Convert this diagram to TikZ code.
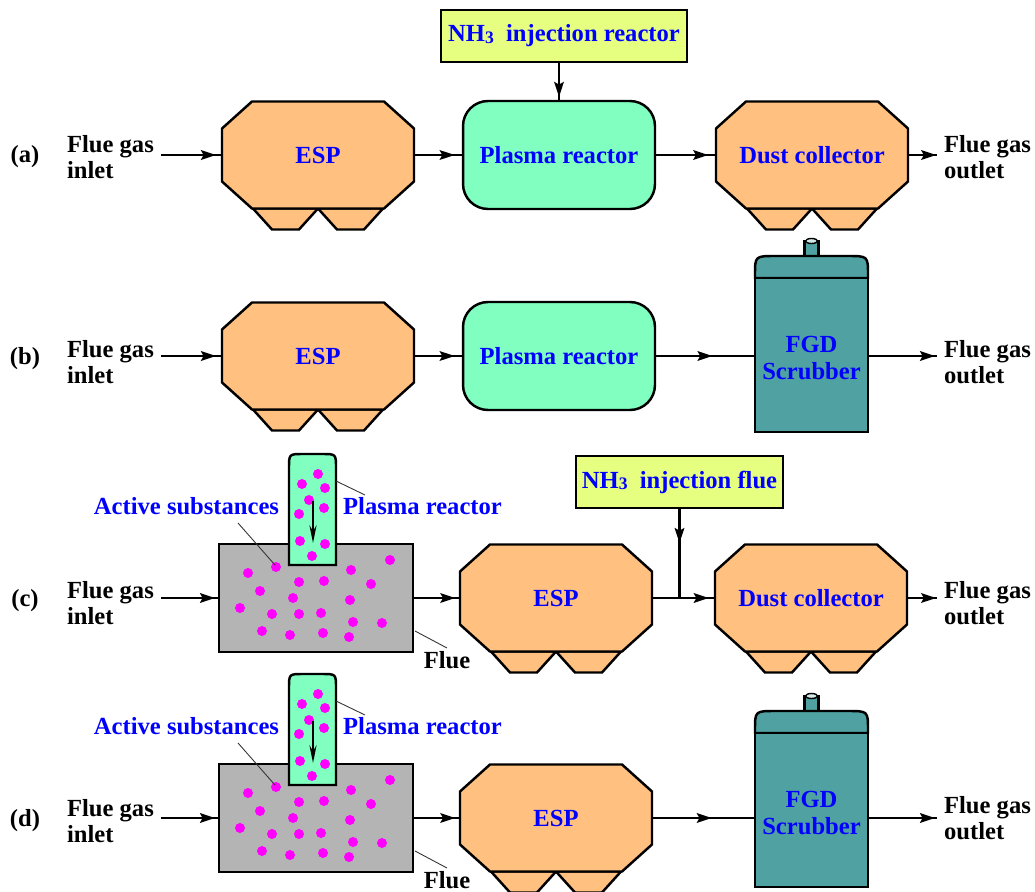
\documentclass[tikz,border=0pt]{standalone}
\usepackage{fontspec}
\setmainfont{Liberation Serif}
\usepackage{tikz}
\usetikzlibrary{arrows.meta,decorations.markings}

\definecolor{espfill}{RGB}{255,192,128}
\definecolor{plasmafill}{RGB}{128,255,192}
\definecolor{nhfill}{RGB}{230,255,128}
\definecolor{scrubfill}{RGB}{80,162,162}
\definecolor{fluefill}{RGB}{180,180,180}
\definecolor{dotfill}{RGB}{255,0,255}

\begin{document}
\begin{tikzpicture}[x=0.02cm, y=-0.02cm, line width=1.4pt,
	bluetext/.style={text=blue, font=\fontsize{14}{15}\selectfont\bfseries},
	blacktext/.style={text=black, font=\fontsize{14}{14.5}\selectfont\bfseries, align=left},
	leader/.style={line width=0.5pt, black!80},
	flow/.style={line width=1.2pt, postaction={decorate, decoration={markings, mark=at position #1 with {\arrow{Stealth[length=8.5pt,width=5.5pt,inset=1.5pt]}}}}},
	flow/.default=0.9,
	plasma/.style={draw, fill=plasmafill, rounded corners=0.5cm, minimum width=3.84cm, minimum height=2.16cm, bluetext},
	nhbox/.style={draw, fill=nhfill, minimum height=1.04cm, bluetext},
	collector/.pic={
		\draw[fill=espfill] (-65,53.5) -- (-46,74.5) -- (-19,74.5) -- (0,53.5) -- cycle;
		\draw[fill=espfill] (0,53.5) -- (19,74.5) -- (46,74.5) -- (65,53.5) -- cycle;
		\draw[fill=espfill] (-66,-53.5) -- (66,-53.5) -- (96,-26.5) -- (96,26.5) -- (66,53.5) -- (-66,53.5) -- (-96,26.5) -- (-96,-26.5) -- cycle;
		\node[bluetext] (-c) at (0,0) {#1};
		\coordinate (-w) at (-96,0);
		\coordinate (-e) at (96,0);
	},
	scrubber/.pic={
		\draw[fill=scrubfill] (-7,-99) rectangle (7,-114);
		\draw[fill=white!75!scrubfill, line width=0.8pt] (0,-114) ellipse [x radius=6, y radius=2.5];
		\draw[fill=scrubfill] (-56.5,-77) -- (-56.5,-80) .. controls (-56.5,-99) .. (-36,-99) -- (36,-99) .. controls (56.5,-99) .. (56.5,-80) -- (56.5,-77) -- cycle;
		\draw[fill=scrubfill] (-56.5,-77) rectangle (56.5,77);
		\node[bluetext, align=center] (-c) at (0,3) {FGD\\Scrubber};
		\coordinate (-w) at (-56.5,0);
		\coordinate (-e) at (56.5,0);
	},
	fluebox/.pic={
		\draw[fill=fluefill] (-97,-54) rectangle (97,54);
		\draw[fill=plasmafill] (-27,-33) -- (-27,-130) .. controls (-27,-144) .. (-13,-144) -- (6,-144) .. controls (20,-144) .. (20,-130) -- (20,-33) -- cycle;
		% active substances in the reactor and in the flue
		\foreach \dx/\dy in {2/-124, -14/-114, 9/-110, -7/-98, 8/-90, -17/-84, -16/-57, 9/-54, -4/-42,
			-40/-31, -68/-25, -56/-7, -17/-16, 8/-17, 35/-28, 74/-38, 55/-14, -23/0, 34/2,
			-76/10, -44/16, -17/16, 5/15, 37/24, 66/25, -54/33, -26/37, 7/35, 33/39}
			\fill[dotfill] (\dx,\dy) circle [radius=5];
		\draw[line width=1.4pt, -{Stealth[length=10pt,width=4pt]}] (-3,-97) -- (-3,-55);
		\node[bluetext] (-act) at (-129.5,-92) {Active substances};
		\node[bluetext] (-pr) at (106.5,-92) {Plasma reactor};
		\node[blacktext] (-fl) at (131,62) {Flue};
		\draw[leader] (-78,-75) -- (-41,-33);
		\draw[leader] (20,-117) -- (49,-103);
		\draw[leader] (99,33) -- (131,50);
		\coordinate (-w) at (-97,0);
		\coordinate (-e) at (97,0);
	}]

	\useasboundingbox (0,0) rectangle (1035,892);

	% (a) ESP + plasma reactor + dust collector
	\node[blacktext] (rowa) at (25,157) {(a)};
	\node[blacktext, anchor=west] (ina) at (60,157) {Flue gas\\inlet};
	\pic (espa) at (318,155) {collector=ESP};
	\node[plasma] (plasmaa) at (559,155) {Plasma reactor};
	\pic (dusta) at (812,155) {collector={Dust collector}};
	\node[nhbox, minimum width=4.92cm] (nhreactor) at (564,36) {NH\raisebox{-1pt}{\fontsize{10}{10}\selectfont 3}\ \ injection reactor};
	\node[blacktext, anchor=west] (outa) at (937,157) {Flue gas\\outlet};

	\draw[flow=0.9] (ina.east |- espa-w) -- (espa-w);
	\draw[flow=0.85] (espa-e) -- (plasmaa.west);
	\draw[flow=0.87] (plasmaa.east) -- (dusta-w);
	\draw[flow=0.97] (dusta-e) -- (outa.west |- dusta-e);
	\draw[flow=0.92] (nhreactor.south -| plasmaa.north) -- (plasmaa.north);

	% (b) ESP + plasma reactor + FGD scrubber
	\node[blacktext] (rowb) at (25,359) {(b)};
	\node[blacktext, anchor=west] (inb) at (60,362) {Flue gas\\inlet};
	\pic (espb) at (318,356) {collector=ESP};
	\node[plasma] (plasmab) at (559,356) {Plasma reactor};
	\pic (fgdb) at (811.5,355) {scrubber};
	\node[blacktext, anchor=west] (outb) at (937,362) {Flue gas\\outlet};

	\draw[flow=0.9] (inb.east |- espb-w) -- (espb-w);
	\draw[flow=0.85] (espb-e) -- (plasmab.west);
	\draw[flow=0.57] (plasmab.east) -- (plasmab.east -| fgdb-w);
	\draw[flow=0.97] (plasmab.east -| fgdb-e) -- (outb.west |- plasmab.east);

	% (c) plasma in the flue + ESP + NH3 + dust collector
	\node[blacktext] (rowc) at (25,601) {(c)};
	\node[blacktext, anchor=west] (inc) at (60,603) {Flue gas\\inlet};
	\pic (fluec) at (316,598) {fluebox};
	\pic (espc) at (556,598) {collector=ESP};
	\pic (dustc) at (811,598) {collector={Dust collector}};
	\node[nhbox, minimum width=4.14cm] (nhflue) at (679.5,482) {NH\raisebox{-1pt}{\fontsize{10}{10}\selectfont 3}\ \ injection flue};
	\node[blacktext, anchor=west] (outc) at (937,603) {Flue gas\\outlet};

	\draw[flow=0.93] (inc.east |- fluec-w) -- (fluec-w);
	\draw[flow=0.9] (fluec-e) -- (espc-w);
	\draw[flow=0.9] (espc-e) -- (dustc-w);
	\draw[flow=0.38] (nhflue.south) -- (nhflue.south |- espc-e);
	\draw[flow=0.97] (dustc-e) -- (outc.west |- dustc-e);

	% (d) plasma in the flue + ESP + FGD scrubber
	\node[blacktext] (rowd) at (25,821) {(d)};
	\node[blacktext, anchor=west] (ind) at (60,821) {Flue gas\\inlet};
	\pic (flued) at (316,818) {fluebox};
	\pic (espd) at (556,818) {collector=ESP};
	\pic (fgdd) at (811.5,810) {scrubber};
	\node[blacktext, anchor=west] (outd) at (937,818) {Flue gas\\outlet};

	\draw[flow=0.93] (ind.east |- flued-w) -- (flued-w);
	\draw[flow=0.9] (flued-e) -- (espd-w);
	\draw[flow=0.58] (espd-e) -- (espd-e -| fgdd-w);
	\draw[flow=0.97] (espd-e -| fgdd-e) -- (outd.west |- espd-e);

\end{tikzpicture}
\end{document}
